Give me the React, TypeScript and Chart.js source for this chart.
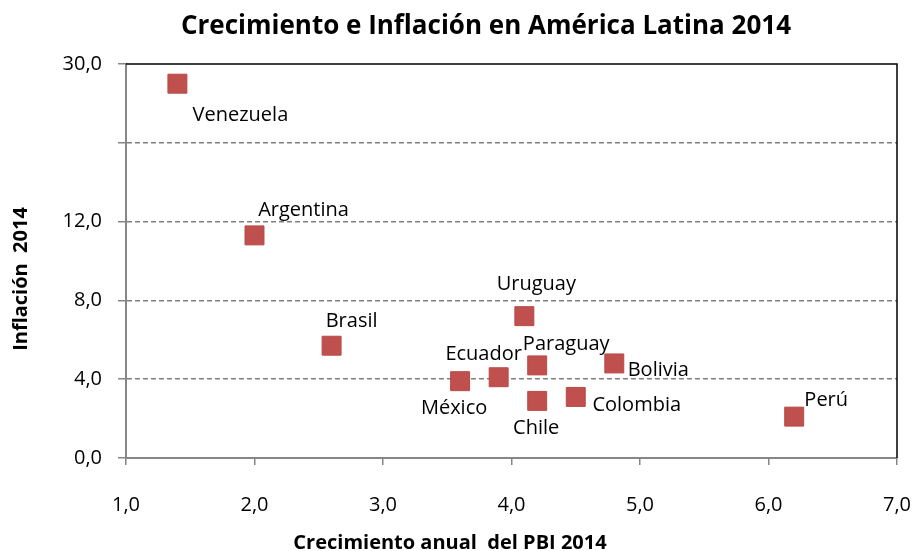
import React, { useEffect, useRef } from "react";
import { Chart, registerables } from "chart.js";

Chart.register(...registerables);

// Data
const countries = ["Venezuela", "Argentina", "Brasil", "México", "Ecuador", "Uruguay", "Paraguay", "Chile", "Colombia", "Bolivia", "Perú"];
// Crecimiento anual del PBI 2014 (%)
const growth = [1.4, 2.0, 2.6, 3.6, 3.9, 4.1, 4.2, 4.2, 4.5, 4.8, 6.2];
// Inflación 2014 as plotted on the (broken) axis
const inflation = [19.0, 11.3, 5.7, 3.9, 4.1, 7.2, 4.7, 2.9, 3.1, 4.8, 2.1];
// y-axis tick labels (axis is broken above 12: the top gridline is labelled 30,0)
const yTickValues = [0, 4, 8, 12, 16, 20];
const yTickLabels = ["0,0", "4,0", "8,0", "12,0", "", "30,0"];
const xTickValues = [1, 2, 3, 4, 5, 6, 7];
const xTickLabels = ["1,0", "2,0", "3,0", "4,0", "5,0", "6,0", "7,0"];

// label placement relative to the marker (pixels), styling only
const labelDx = [63, 49, 20, -6, -15, 12, 29, -1, 61, 44, 32];
const labelDy = [32, -25, -24, 27, -23, -32, -21, 27, 8, 7, -16];

const TITLE = "Crecimiento e Inflación en América Latina 2014";
const X_TITLE = "Crecimiento anual  del PBI 2014";
const Y_TITLE = "Inflación  2014";

const FONT = "'Open Sans', 'Noto Sans', sans-serif";

const overlayPlugin = {
  id: "overlay",
  afterDatasetsDraw(chart: any) {
    const { ctx, chartArea } = chart;
    ctx.save();
    // top and right plot border (black)
    ctx.strokeStyle = "#000000";
    ctx.lineWidth = 1.5;
    ctx.beginPath();
    ctx.moveTo(chartArea.left, chartArea.top);
    ctx.lineTo(chartArea.right, chartArea.top);
    ctx.lineTo(chartArea.right, chartArea.bottom);
    ctx.stroke();

    // point labels
    const meta = chart.getDatasetMeta(0);
    ctx.fillStyle = "#000000";
    ctx.font = `20px ${FONT}`;
    ctx.textAlign = "center";
    ctx.textBaseline = "middle";
    meta.data.forEach((pt: any, i: number) => {
      ctx.fillText(countries[i], pt.x + labelDx[i], pt.y + labelDy[i]);
    });

    // titles
    ctx.font = `bold 26px ${FONT}`;
    ctx.fillText(TITLE, 486, 27);
    ctx.font = `bold 20px ${FONT}`;
    ctx.fillText(X_TITLE, 450, 543);
    ctx.translate(21, 279);
    ctx.rotate(-Math.PI / 2);
    ctx.font = `bold 20px ${FONT}`;
    ctx.fillText(Y_TITLE, 0, 0);
    ctx.restore();
  },
};

export default function App() {
  const ref = useRef<HTMLCanvasElement>(null);
  useEffect(() => {
    document.body.style.margin = "0";
    const chart = new Chart(ref.current!, {
      type: "scatter",
      data: {
        datasets: [
          {
            data: growth.map((g, i) => ({ x: g, y: inflation[i] })),
            backgroundColor: "#C0504D",
            borderColor: "#B84A47",
            borderWidth: 1,
            pointStyle: "rect",
            pointRadius: 13.4,
            pointHoverRadius: 13.4,
          },
        ],
      },
      options: {
        responsive: false,
        animation: false,
        layout: { padding: { top: 64, right: 20, left: 0, bottom: 0 } },
        plugins: { legend: { display: false }, tooltip: { enabled: false }, title: { display: false } },
        scales: {
          x: {
            type: "linear",
            min: 1,
            max: 7,
            afterFit: (s: any) => { s.height = 93; s.paddingLeft = 0; s.paddingRight = 0; },
            afterBuildTicks: (s: any) => { s.ticks = xTickValues.map((v) => ({ value: v })); },
            ticks: {
              callback: (v: any) => xTickLabels[xTickValues.indexOf(Number(v))] ?? "",
              font: { family: FONT, size: 20 },
              color: "#000000",
              padding: 28,
              maxRotation: 0,
            },
            grid: { drawOnChartArea: false, drawTicks: true, tickLength: 7, color: "#868686", lineWidth: 1.5 },
            border: { color: "#868686", width: 2 },
          },
          y: {
            type: "linear",
            min: 0,
            max: 20,
            afterFit: (s: any) => { s.width = 126; s.paddingTop = 0; s.paddingBottom = 0; },
            afterBuildTicks: (s: any) => { s.ticks = yTickValues.map((v) => ({ value: v })); },
            ticks: {
              callback: (v: any) => yTickLabels[yTickValues.indexOf(Number(v))] ?? "",
              font: { family: FONT, size: 20 },
              color: "#000000",
              padding: 16,
            },
            grid: {
              drawTicks: true,
              tickLength: 8,
              color: (c: any) => (c.tick && (c.tick.value === 0 || c.tick.value === 20) ? "rgba(0,0,0,0)" : "#808080"),
              tickColor: "#868686",
              lineWidth: 1.5,
              tickWidth: 1.5,
              tickBorderDash: [],
            },
            border: { color: "#868686", width: 2, dash: [5, 3] },
          },
        },
      },
      plugins: [overlayPlugin],
    } as any);
    return () => chart.destroy();
  }, []);
  return (
    <div style={{ position: "absolute", left: 0, top: 0, width: 917, height: 551, background: "#fff" }}>
      <canvas ref={ref} width={917} height={551} />
    </div>
  );
}
